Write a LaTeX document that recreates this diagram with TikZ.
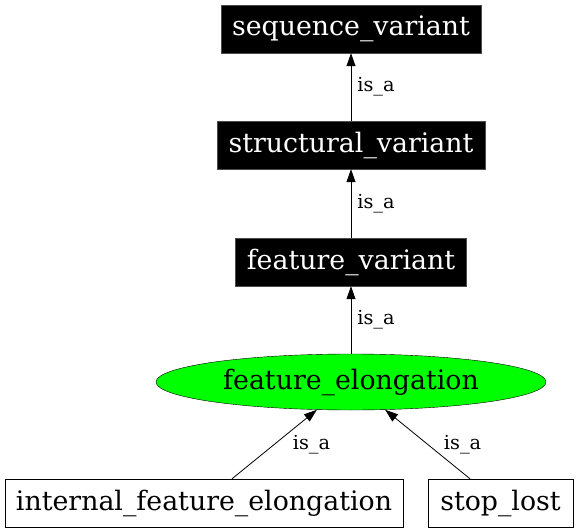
\documentclass[tikz,border=0pt]{standalone}
\usepackage{fontspec}
\setmainfont{DejaVu Serif}
\usetikzlibrary{arrows.meta,shapes.geometric,calc}
\begin{document}
\begin{tikzpicture}[x=1pt,y=-1pt,
  nodefont/.style={font=\fontsize{26.8}{30}\selectfont},
  blackbox/.style={nodefont,draw=black!70,fill=black,text=white,inner sep=0pt,minimum height=48pt},
  whitebox/.style={nodefont,draw=black,fill=white,text=black,inner sep=0pt,minimum height=48pt},
  greenell/.style={nodefont,ellipse,draw=black,fill=green,inner sep=0pt,minimum width=390pt,minimum height=56pt},
  isa/.style={-{Triangle[length=13pt,width=9pt]},draw=black,line width=0.8pt},
  lbl/.style={font=\fontsize{19.3}{22}\selectfont,inner sep=0pt,anchor=west}]
\useasboundingbox (0,0) rectangle (576,532);
\node[blackbox,minimum width=260pt] (seq) at (351,29) {sequence\_variant};
\node[blackbox,minimum width=268pt] (str) at (351,145) {structural\_variant};
\node[blackbox,minimum width=231pt] (fv) at (351,262) {feature\_variant};
\node[greenell] (fe) at (351,382) {feature\_elongation};
\node[whitebox,minimum width=398pt] (ife) at (204,503) {internal\_feature\_elongation};
\node[whitebox,minimum width=145pt] (sl) at (500.5,503) {stop\_lost};
\coordinate (ifeout) at ($(ife.north)+(28,0)$);
\coordinate (slout) at ($(sl.north)+(-30.5,0)$);
\draw[isa] (str) -- node[lbl,xshift=6pt] {is\_a} (seq);
\draw[isa] (fv) -- node[lbl,xshift=6pt] {is\_a} (str);
\draw[isa] (fe) -- node[lbl,xshift=6pt] {is\_a} (fv);
\draw[isa] (ifeout) -- node[lbl,xshift=18pt] {is\_a} (fe);
\draw[isa] (slout) -- node[lbl,xshift=16pt] {is\_a} (fe);
\end{tikzpicture}
\end{document}
